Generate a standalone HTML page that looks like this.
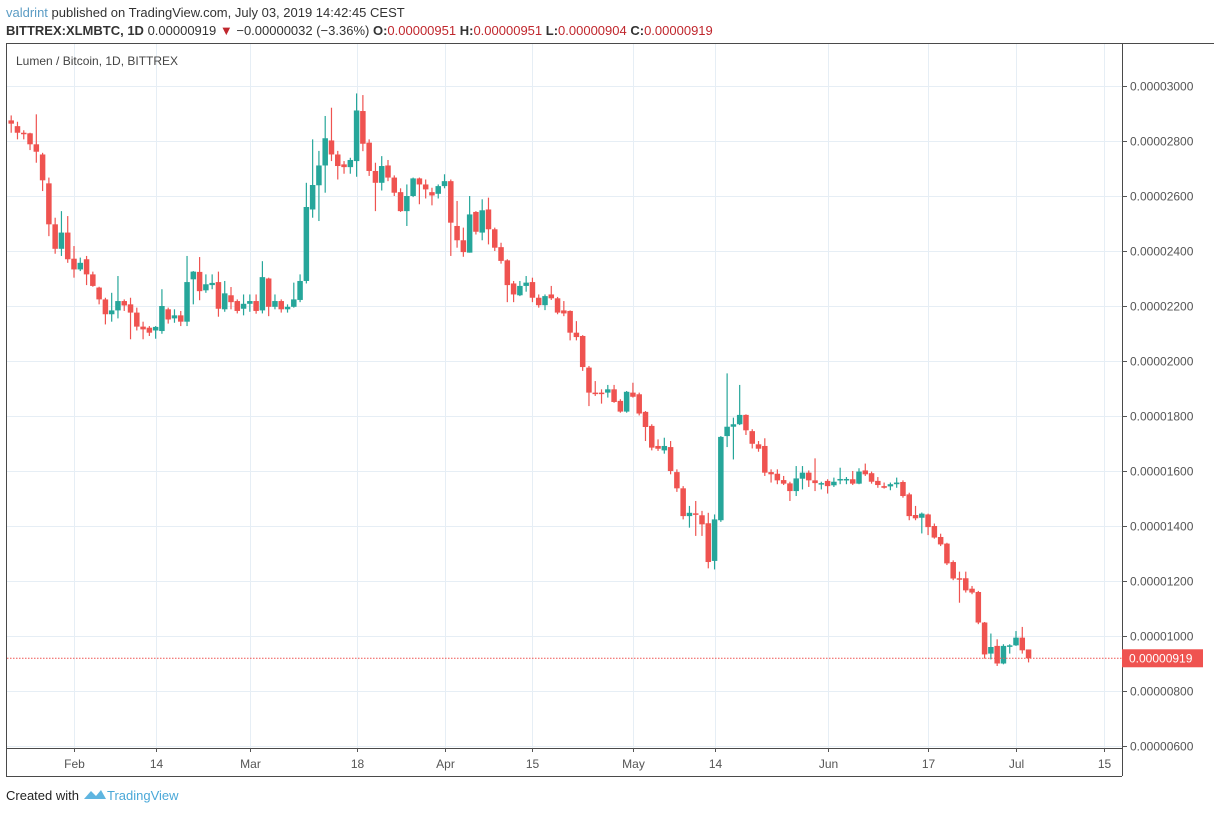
<!DOCTYPE html>
<html><head><meta charset="utf-8"><style>
body{margin:0;background:#fff;font-family:"Liberation Sans",sans-serif;}
svg{display:block}
</style></head><body>
<svg id="chart" width="1214" height="813" viewBox="0 0 1214 813" xmlns="http://www.w3.org/2000/svg">
<text x="6" y="17" font-size="13" fill="#333"><tspan fill="#5b9cc4">valdrint</tspan> published on TradingView.com, July 03, 2019 14:42:45 CEST</text>
<text x="6" y="35" font-size="13" fill="#333"><tspan font-weight="bold">BITTREX:XLMBTC, 1D</tspan> 0.00000919 <tspan fill="#c0272d">▼</tspan> −0.00000032 (−3.36%) <tspan font-weight="bold">O:</tspan><tspan fill="#c0272d">0.00000951</tspan> <tspan font-weight="bold">H:</tspan><tspan fill="#c0272d">0.00000951</tspan> <tspan font-weight="bold">L:</tspan><tspan fill="#c0272d">0.00000904</tspan> <tspan font-weight="bold">C:</tspan><tspan fill="#c0272d">0.00000919</tspan></text>
<g id="grid"></g>
<g id="candles"></g>
<line x1="6.5" y1="44" x2="6.5" y2="776" stroke="#4a4a4a"/>
<line x1="6" y1="43.5" x2="1214" y2="43.5" stroke="#4a4a4a"/>
<line x1="1122.5" y1="44" x2="1122.5" y2="776" stroke="#4a4a4a"/>
<line x1="6" y1="748.5" x2="1122" y2="748.5" stroke="#4a4a4a"/>
<line x1="6" y1="776.5" x2="1122" y2="776.5" stroke="#4a4a4a"/>
<text x="16" y="65" font-size="12" fill="#444">Lumen / Bitcoin, 1D, BITTREX</text>
<g id="axes"></g>
<text x="6" y="800" font-size="13" fill="#222">Created with</text>
<path d="M84 799 L91 791 L96 796 L101 790 L106 799 Z" fill="#5fb5e0"/>
<text x="107" y="800" font-size="13" fill="#4aa8d8">TradingView</text>
</svg>
<script>
const startIndex = -10; // Jan 22 relative to Feb 1
const opens = [2875,2854,2830,2828,2788,2751,2646,2497,2408,2467,2372,2333,2370,2315,2267,2224,2170,2184,2218,2206,2176,2125,2121,2111,2109,2188,2155,2166,2143,2297,2324,2257,2276,2287,2188,2239,2218,2190,2208,2218,2184,2300,2197,2218,2188,2197,2222,2291,2551,2639,2711,2802,2751,2715,2705,2727,2909,2794,2691,2648,2711,2667,2614,2545,2600,2664,2642,2614,2608,2636,2654,2491,2439,2394,2542,2467,2551,2479,2414,2366,2282,2239,2273,2287,2230,2203,2242,2228,2184,2182,2103,2091,1976,1885,1885,1885,1897,1855,1816,1885,1879,1815,1764,1691,1675,1687,1596,1537,1436,1446,1439,1410,1273,1421,1727,1761,1770,1804,1745,1697,1691,1596,1590,1567,1555,1527,1572,1594,1566,1552,1564,1548,1566,1569,1570,1554,1602,1592,1564,1545,1544,1552,1560,1515,1440,1430,1442,1400,1360,1336,1269,1210,1210,1172,1160,1049,936,964,900,963,966,994,951];
const closes = [2863,2830,2827,2788,2761,2657,2497,2408,2467,2370,2333,2357,2315,2273,2224,2170,2184,2218,2202,2176,2125,2115,2103,2124,2200,2151,2166,2143,2287,2325,2254,2279,2284,2190,2246,2214,2182,2208,2218,2182,2305,2197,2218,2188,2197,2224,2291,2560,2640,2711,2810,2751,2709,2705,2731,2911,2790,2691,2648,2709,2667,2612,2545,2600,2664,2642,2624,2602,2636,2654,2503,2439,2396,2533,2470,2548,2479,2412,2364,2276,2242,2273,2285,2230,2203,2236,2228,2176,2173,2103,2087,1978,1885,1881,1882,1897,1851,1816,1888,1870,1809,1760,1685,1681,1691,1600,1537,1436,1448,1442,1406,1269,1424,1724,1761,1770,1804,1748,1699,1681,1594,1588,1566,1554,1527,1573,1594,1566,1556,1556,1545,1561,1571,1571,1554,1598,1588,1561,1549,1539,1552,1558,1509,1436,1428,1445,1396,1358,1333,1264,1209,1206,1166,1158,1049,933,960,900,964,966,994,948,919];
const highs = [2893,2870,2839,2830,2897,2757,2667,2521,2545,2527,2418,2376,2382,2325,2270,2230,2248,2309,2224,2230,2194,2143,2127,2127,2261,2194,2188,2182,2382,2327,2378,2315,2315,2325,2291,2269,2224,2242,2242,2242,2363,2303,2242,2224,2206,2285,2315,2648,2806,2764,2891,2921,2764,2727,2739,2973,2967,2806,2721,2745,2731,2675,2628,2642,2667,2667,2660,2630,2642,2679,2660,2582,2485,2600,2545,2588,2594,2485,2430,2370,2291,2291,2309,2303,2242,2242,2273,2233,2218,2184,2145,2094,1982,1927,1897,1913,1913,1861,1891,1921,1885,1818,1770,1715,1721,1709,1606,1545,1473,1491,1455,1448,1442,1727,1955,1794,1913,1806,1752,1709,1719,1606,1606,1582,1561,1618,1618,1602,1646,1561,1570,1576,1612,1578,1600,1610,1627,1598,1578,1558,1558,1576,1566,1521,1473,1449,1445,1409,1372,1339,1275,1234,1234,1182,1164,1051,1009,988,970,970,1018,1033,951];
const lows = [2830,2806,2806,2767,2721,2618,2454,2390,2382,2357,2303,2327,2276,2270,2206,2133,2143,2155,2182,2079,2111,2079,2091,2081,2099,2136,2139,2127,2127,2206,2221,2248,2261,2161,2179,2188,2173,2166,2179,2172,2173,2163,2188,2176,2176,2194,2214,2282,2521,2509,2612,2727,2660,2681,2681,2670,2763,2673,2545,2620,2654,2600,2542,2491,2596,2570,2591,2566,2591,2628,2382,2412,2379,2394,2460,2439,2424,2400,2354,2214,2214,2236,2252,2214,2194,2185,2222,2170,2163,2075,2075,1964,1836,1873,1845,1867,1848,1812,1812,1867,1802,1709,1675,1673,1663,1588,1524,1424,1394,1364,1364,1246,1242,1415,1687,1642,1767,1731,1682,1670,1582,1558,1552,1549,1491,1509,1533,1542,1527,1533,1518,1542,1552,1552,1549,1552,1582,1554,1539,1536,1530,1539,1503,1421,1421,1373,1367,1354,1327,1258,1203,1121,1158,1152,1043,918,915,891,897,936,964,936,904];
const priceTicks = [3000,2800,2600,2400,2200,2000,1800,1600,1400,1200,1000,800,600];
const timeTickDays = [0,13,28,45,59,73,89,102,120,136,150,164];
const timeTickLabels = ["Feb","14","Mar","18","Apr","15","May","14","Jun","17","Jul","15"];
const lastPrice = 919;

const NS = "http://www.w3.org/2000/svg";
function yScale(p){ return 86 + (3000 - p) * 0.275; }
function xScale(d){ return 74 + d * 6.28; }
function fmt(p){ return "0." + String(Math.round(p)).padStart(8,"0"); }
function mk(tag, attrs, parent){
  const e = document.createElementNS(NS, tag);
  for (const k in attrs) e.setAttribute(k, attrs[k]);
  parent.appendChild(e);
  return e;
}
const grid = document.getElementById("grid");
const axes = document.getElementById("axes");
const cg = document.getElementById("candles");

priceTicks.forEach(p => {
  const y = Math.round(yScale(p)) + 0.5;
  const g = mk("line", {x1:7, x2:1122, y1:y, y2:y, stroke:"#e6eef5"}, grid);
  
  
  const t = mk("line", {x1:1122, x2:1127, y1:y, y2:y, stroke:"#555"}, axes);
  
  
  const tx = mk("text", {x:1130, y:y+4, "font-size":12, fill:"#555"}, axes);
  tx.textContent = fmt(p);
  
  
});
timeTickDays.forEach((d, i) => {
  const x = Math.round(xScale(d)) + 0.5;
  const g = mk("line", {x1:x, x2:x, y1:44, y2:748, stroke:"#e6eef5"}, grid);
  
  
  const t = mk("line", {x1:x, x2:x, y1:748, y2:752, stroke:"#555"}, axes);
  
  
  const tx = mk("text", {x:x, y:768, "font-size":12, fill:"#555", "text-anchor":"middle"}, axes);
  tx.textContent = timeTickLabels[i];
  
  
});

opens.forEach((o, i) => {
  const c = closes[i], h = highs[i], l = lows[i];
  const x = xScale(startIndex + i);
  const up = c >= o;
  const col = up ? "#26a69a" : "#ef5350";
  const g = mk("g", {}, cg);
  
  
  mk("line", {x1:x, x2:x, y1:yScale(h), y2:yScale(l), stroke:col, "stroke-width":1.2}, g);
  const top = yScale(Math.max(o, c)), bot = yScale(Math.min(o, c));
  mk("rect", {x:x-2.75, y:top, width:5.5, height:Math.max(1.5, bot-top), fill:col}, g);
});

const ly = yScale(lastPrice);
const ll = mk("line", {x1:7, x2:1122, y1:ly, y2:ly, stroke:"#ef5350", "stroke-dasharray":"1.5,1.5"}, axes);


const lr = mk("rect", {x:1122, y:ly-9, width:81, height:18, fill:"#ef5350"}, axes);


const lt = mk("text", {x:1129, y:ly+4, "font-size":12, fill:"#fff"}, axes);
lt.textContent = fmt(lastPrice);


</script>
</body></html>
